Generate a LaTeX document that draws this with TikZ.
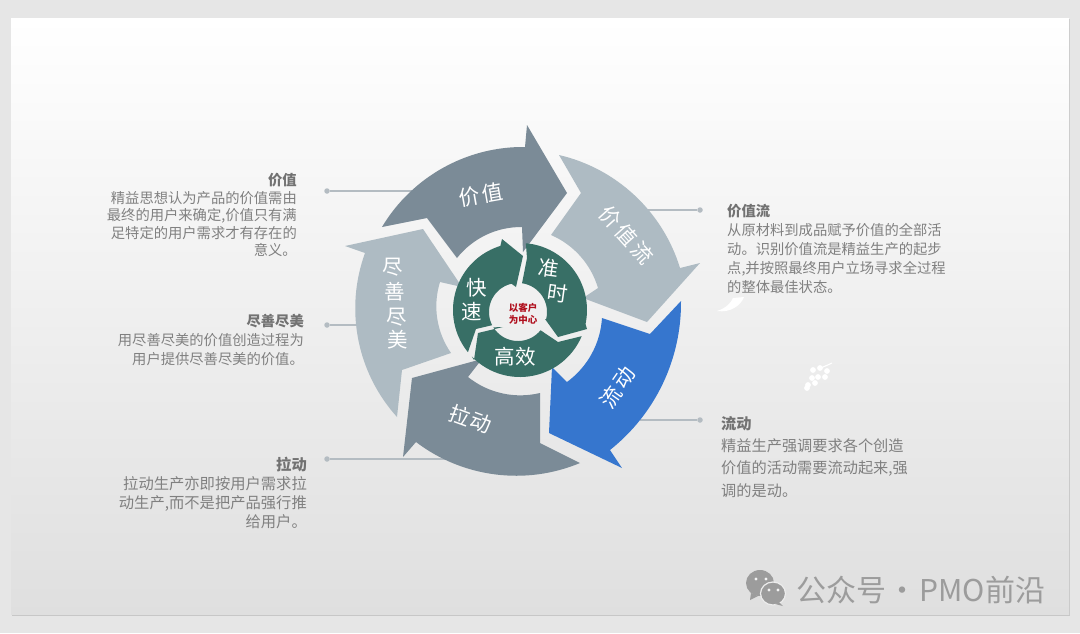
\documentclass[tikz,border=0pt]{standalone}
\usepackage{fontspec}
\setmainfont{Noto Sans CJK SC}
\definecolor{bgout}{HTML}{E6E6E6}
\definecolor{slate}{HTML}{7B8B97}
\definecolor{pale}{HTML}{AEBBC3}
\definecolor{blueA}{HTML}{3676CE}
\definecolor{greenA}{HTML}{386F66}
\definecolor{txt}{HTML}{808080}
\definecolor{txtb}{HTML}{727272}
\definecolor{redA}{HTML}{B0101E}
\definecolor{leaderc}{HTML}{B4BCC2}
\definecolor{wm}{HTML}{9C9C9C}
\tikzset{
  ringlabel/.style={text=white,inner sep=0pt,align=center,font=\fontsize{20.5}{25}\selectfont},
  biglabel/.style={ringlabel,font=\fontsize{21}{25}\selectfont},
  desc/.style={text=txt,inner sep=0pt},
  dot/.style={circle,fill=leaderc,inner sep=0pt,minimum size=5.5pt},
  leader/.style={draw=leaderc,line width=1.1pt},
}
\begin{document}
\begin{tikzpicture}[x=1pt,y=-1pt]
\useasboundingbox (0,0) rectangle (1080,633);
\fill[bgout] (0,0) rectangle (1080,633);
\fill[black!22] (12,19) rectangle (1070,615.5);
\shade[top color=white,middle color=white!97!black,bottom color=white!87.5!black] (11,18) rectangle (1069,614);

% leaders
\node[dot] (d1) at (327,191) {};
\node[dot] (d2) at (700,210) {};
\node[dot] (d3) at (327,325) {};
\node[dot] (d4) at (327,459) {};
\node[dot] (d5) at (700,420) {};
\coordinate (e1) at (412,191);
\coordinate (e2) at (640,210);
\coordinate (e3) at (362,325);
\coordinate (e4) at (450,459);
\coordinate (e5) at (640,420);
\draw[leader] (d1) -- (e1);
\draw[leader] (d2) -- (e2);
\draw[leader] (d3) -- (e3);
\draw[leader] (d4) -- (e4);
\draw[leader] (d5) -- (e5);

% outer arrows
\fill[slate] (382,227) to[bend left=30,looseness=.91] (525,147) -- (527,125) -- (567,193) -- (523,252) -- (522,227)
  to[bend right=26,looseness=.9] (457,258) -- (427,218) -- cycle;
\fill[pale] (559,155) to[bend left=30,looseness=.91] (680,268) -- (700,263) -- (647,322) -- (583,298) -- (598,288)
  to[bend right=25,looseness=.9] (551,235) -- (581,193) -- cycle;
\fill[blueA] (681,301) to[bend left=26,looseness=.9] (610,450) -- (622,468) -- (549,433) -- (552,367) -- (567,382)
  to[bend right=25,looseness=.9] (602,318) -- (650,334) -- cycle;
\fill[slate] (580,463) to[bend left=30,looseness=.91] (416,442) -- (403,457) -- (412,378) -- (482,359) -- (468,377)
  to[bend right=26,looseness=.9] (540,393) -- (540,443) -- cycle;
\fill[pale] (397,417) to[bend left=31,looseness=.92] (365,253) -- (345,246) -- (423,229) -- (462,287) -- (440,282)
  to[bend right=26,looseness=.9] (451,353) -- (402,370) -- cycle;

% inner arrows: arcs R=67 about (520,310), r=29 about (518,312)
\fill[greenA] plot[domain=85:-12,samples=40] ({520+67*cos(\x)},{310-67*sin(\x)}) -- (587,329) -- (558,337) -- (545,319)
  -- plot[domain=-14:82,samples=40] ({518+29*cos(\x)},{312-29*sin(\x)}) -- (527,258) -- cycle;
\fill[greenA] plot[domain=-23:-136,samples=40] ({520+67*cos(\x)},{310-67*sin(\x)}) -- (474,360) -- (478,333) -- (503,327)
  -- plot[domain=-148:-39,samples=40] ({518+29*cos(\x)},{312-29*sin(\x)}) -- (558,342) -- cycle;
\fill[greenA] plot[domain=219:107,samples=40] ({520+67*cos(\x)},{310-67*sin(\x)}) -- (502,239) -- (523,256) -- (516,287)
  -- plot[domain=103:207,samples=40] ({518+29*cos(\x)},{312-29*sin(\x)}) -- (476,329) -- cycle;

% ring labels
\node[biglabel,rotate=10] (t1) at (481,194.5) {价\kern1.5pt{}值};
\node[biglabel,rotate=-48] (t2) at (626,235) {价\kern3pt{}值\kern3pt{}流};
\node[biglabel,rotate=55] (t3) at (617.5,387.5) {流\kern3pt{}动};
\node[biglabel,rotate=-20] (t4) at (470.5,419) {拉\kern1.5pt{}动};
\node[ringlabel] (t5a) at (393,267) {尽};
\node[ringlabel] (t5b) at (395,292) {善};
\node[ringlabel] (t5c) at (397,317) {尽};
\node[ringlabel] (t5d) at (398,340) {美};
\node[ringlabel] (t6a) at (477,288) {快};
\node[ringlabel] (t6b) at (472,312) {速};
\node[ringlabel,rotate=-8] (t7a) at (549,268) {准};
\node[ringlabel,rotate=-8] (t7b) at (558,293) {时};
\node[ringlabel] (t8) at (515,357) {高效};
\node[text=redA,inner sep=0pt,align=center,font=\fontsize{9.5}{12}\selectfont\bfseries] (t9) at (523,314) {以客户\\为中心};

% descriptions
\node[desc,anchor=north east,align=right,font=\fontsize{14.3}{17.6}\selectfont] (p1) at (297,173) {{\color{txtb}\bfseries 价值}\\精益思想认为产品的价值需由\\最终的用户来确定,价值只有满\\足特定的用户需求才有存在的\\意义。};
\node[desc,anchor=north west,align=left,font=\fontsize{14.3}{19}\selectfont] (p2) at (727,204) {{\color{txtb}\bfseries 价值流}\\从原材料到成品赋予价值的全部活\\动。识别价值流是精益生产的起步\\点,并按照最终用户立场寻求全过程\\的整体最佳状态。};
\node[desc,anchor=north east,align=right,font=\fontsize{14.3}{19}\selectfont] (p3) at (304,314) {{\color{txtb}\bfseries 尽善尽美}\\用尽善尽美的价值创造过程为\\用户提供尽善尽美的价值。};
\node[desc,anchor=north east,align=right,font=\fontsize{15.3}{19}\selectfont] (p4) at (307,457) {{\color{txtb}\bfseries 拉动}\\拉动生产亦即按用户需求拉\\动生产,而不是把产品强行推\\给用户。};
\node[desc,anchor=north west,align=left,font=\fontsize{15.2}{22.3}\selectfont] (p5) at (721,416) {{\color{txtb}\bfseries 流动}\\精益生产强调要求各个创造\\价值的活动需要流动起来,强\\调的是动。};

% faint white ornaments
\fill[white] (717,311) .. controls (726,308) and (731,303) .. (733,298) -- (744,297) .. controls (741,305) and (731,313) .. (717,311) -- cycle;
\foreach \gx/\gy in {813/370,820/368,827/371,812/378,818/377,825/377,808/385,815/383,807/388}
  \fill[white] (\gx,\gy) circle[radius=2.9pt];
\draw[white,line width=1.1pt] (821,368) .. controls (825,366) and (828,365) .. (832,363);

% watermark
\fill[wm] (760,583) ellipse[x radius=14pt,y radius=13pt];
\fill[wm] (751,593) -- (750,600) -- (758,596) -- cycle;
\draw[bgout!70!white,line width=1.2pt,fill=wm] (773,593.5) ellipse[x radius=12.5pt,y radius=11.5pt];
\fill[wm] (779,602) -- (783,606) -- (775,604) -- cycle;
\foreach \ex/\ey in {756/579,766/579,769/590,778/590}
  \fill[bgout!50!white] (\ex,\ey) circle[radius=1.7pt];
\node[text=wm,inner sep=0pt,anchor=west,font=\fontsize{30}{32}\selectfont] (w) at (796,590) {公众号\kern-5pt{} · \kern-5pt{}PMO前沿};
\end{tikzpicture}
\end{document}
